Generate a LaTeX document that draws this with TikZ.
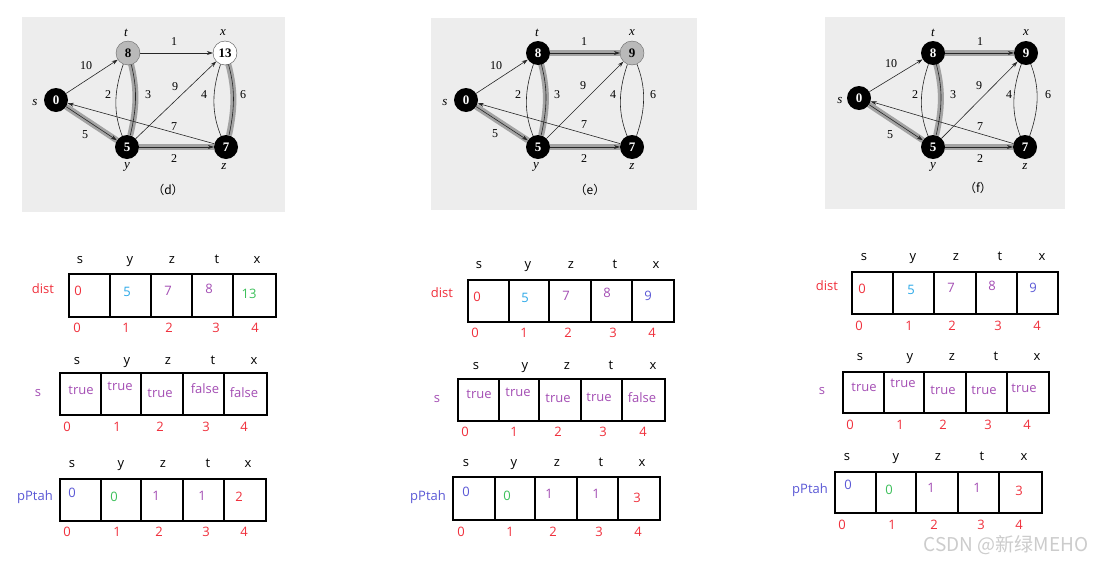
\documentclass[tikz,border=0pt]{standalone}
\usepackage{fontspec}
\setmainfont{Liberation Serif}
\newfontfamily\tabfont{Open Sans}
\newfontfamily\cjk{Noto Sans CJK SC}
\usetikzlibrary{arrows.meta}
\pgfdeclarelayer{bottom}
\pgfdeclarelayer{edges}
\pgfsetlayers{bottom,edges,main}
\definecolor{panelbg}{HTML}{EDEDED}
\definecolor{redc}{HTML}{F0303C}
\definecolor{bluec}{HTML}{2AA8E8}
\definecolor{purp}{HTML}{A44EB4}
\definecolor{blu2}{HTML}{5A58D6}
\definecolor{greenc}{HTML}{3CC05A}
\newcommand\tbbox[8]{%
  \draw[tabline] (#1,#7) rectangle (#6,#8);
  \draw[tabline] (#2,#7) -- (#2,#8); \draw[tabline] (#3,#7) -- (#3,#8);
  \draw[tabline] (#4,#7) -- (#4,#8); \draw[tabline] (#5,#7) -- (#5,#8);}
\newcommand\tbhdr[7]{%
  \node[hdr] (#1a) at (#3,#2) {s}; \node[hdr] (#1b) at (#4,#2) {y};
  \node[hdr] (#1c) at (#5,#2) {z}; \node[hdr] (#1d) at (#6,#2) {t};
  \node[hdr] (#1e) at (#7,#2) {x};}
\newcommand\tbidx[7]{%
  \node[idx] (#1a) at (#3,#2) {0}; \node[idx] (#1b) at (#4,#2) {1};
  \node[idx] (#1c) at (#5,#2) {2}; \node[idx] (#1d) at (#6,#2) {3};
  \node[idx] (#1e) at (#7,#2) {4};}
\begin{document}
\begin{tikzpicture}[x=1pt,y=-1pt,
  vtx/.style={circle, minimum size=24pt, inner sep=0pt, font=\bfseries\fontsize{13}{13}\selectfont},
  blk/.style={vtx, fill=black, text=white},
  gry/.style={vtx, fill=gray!55, draw=black!60, text=black},
  wht/.style={vtx, fill=white, draw=black!70, text=black},
  arr/.style={-{Stealth[length=6pt,width=4pt]}, line width=0.6pt, black!85},
  band/.style={line width=6pt, gray!72},
  elab/.style={font=\fontsize{12}{12}\selectfont, inner sep=0pt},
  vlab/.style={font=\itshape\fontsize{13}{13}\selectfont, inner sep=0pt},
  captxt/.style={font=\fontsize{12}{12}\selectfont, inner sep=0pt},
  tb/.style={font=\tabfont\fontsize{13}{13}\selectfont, inner sep=0pt, text height=9.5pt, text depth=3pt},
  hdr/.style={tb, text=black},
  idx/.style={tb, text=redc},
  tabline/.style={line width=1.8pt, black}]
\useasboundingbox (0,0) rectangle (1098,560);
\begin{pgfonlayer}{bottom}
\fill[white] (0,0) rectangle (1098,560);
% ---------- panels ----------
\fill[panelbg] (22,17) rectangle (285,212);
\fill[panelbg] (431,18) rectangle (697,210);
\fill[panelbg] (825,17) rectangle (1065,209);
\end{pgfonlayer}
% ---------- graph (d) ----------
\begin{scope}[shift={(128,53)}, name prefix=d-]
  \node[blk] (s) at (-72,47) {0};
  \node[gry] (t) at (0,0) {8};
  \node[wht] (x) at (97,0) {13};
  \node[blk] (y) at (-1,94) {5};
  \node[blk] (z) at (98,94) {7};
  \begin{pgfonlayer}{edges}
  \draw[arr] (s) -- (t);
  \draw[arr] (t) -- (x);
  \draw[arr] (t) to[bend right=22] (y);
  \draw[band] (y) to[bend right=15] (t); \draw[arr] (y) to[bend right=15] (t);
  \draw[band] (s) -- (y); \draw[arr] (s) -- (y);
  \draw[arr] (y) -- (x);
  \draw[arr] (x) to[bend right=22] (z);
  \draw[band] (z) to[bend right=15] (x); \draw[arr] (z) to[bend right=15] (x);
  \draw[arr] (z) -- (s);
  \draw[band] (y) -- (z); \draw[arr] (y) -- (z);
  \end{pgfonlayer}
  \node[elab] (l10) at (-42,13) {10};
  \node[elab] (l1) at (46,-11) {1};
  \node[elab] (l2a) at (-20,42) {2};
  \node[elab] (l3) at (20,42) {3};
  \node[elab] (l9) at (47,34) {9};
  \node[elab] (l4) at (76,42) {4};
  \node[elab] (l6) at (115,42) {6};
  \node[elab] (l7) at (46,74) {7};
  \node[elab] (l5) at (-43,82) {5};
  \node[elab] (l2b) at (46,106) {2};
  \node[vlab] (ns) at (-93,49) {s};
  \node[vlab] (nt) at (-2,-20) {t};
  \node[vlab] (nx) at (95,-20) {x};
  \node[vlab] (ny) at (-1,114) {y};
  \node[vlab] (nz) at (96,114) {z};
  \node[captxt] (cp) at (40,137) {\cjk{（}d\cjk{）}};
\end{scope}
% ---------- graph (e) ----------
\begin{scope}[shift={(538,53)}, name prefix=e-]
  \node[blk] (s) at (-72,47) {0};
  \node[blk] (t) at (0,0) {8};
  \node[gry] (x) at (94,0) {9};
  \node[blk] (y) at (0,94) {5};
  \node[blk] (z) at (94,94) {7};
  \begin{pgfonlayer}{edges}
  \draw[arr] (s) -- (t);
  \draw[band] (t) -- (x); \draw[arr] (t) -- (x);
  \draw[arr] (t) to[bend right=22] (y);
  \draw[band] (y) to[bend right=15] (t); \draw[arr] (y) to[bend right=15] (t);
  \draw[band] (s) -- (y); \draw[arr] (s) -- (y);
  \draw[arr] (y) -- (x);
  \draw[arr] (x) to[bend right=22] (z);
  \draw[arr] (z) to[bend right=22] (x);
  \draw[arr] (z) -- (s);
  \draw[band] (y) -- (z); \draw[arr] (y) -- (z);
  \end{pgfonlayer}
  \node[elab] (l10) at (-42,13) {10};
  \node[elab] (l1) at (46,-11) {1};
  \node[elab] (l2a) at (-20,42) {2};
  \node[elab] (l3) at (19,42) {3};
  \node[elab] (l9) at (45,33) {9};
  \node[elab] (l4) at (75,42) {4};
  \node[elab] (l6) at (115,42) {6};
  \node[elab] (l7) at (46,72) {7};
  \node[elab] (l5) at (-43,81) {5};
  \node[elab] (l2b) at (46,106) {2};
  \node[vlab] (ns) at (-93,49) {s};
  \node[vlab] (nt) at (-1,-20) {t};
  \node[vlab] (nx) at (94,-20) {x};
  \node[vlab] (ny) at (-2,114) {y};
  \node[vlab] (nz) at (94,114) {z};
  \node[captxt] (cp) at (52,137) {\cjk{（}e\cjk{）}};
\end{scope}
% ---------- graph (f) ----------
\begin{scope}[shift={(933,53)}, name prefix=f-]
  \node[blk] (s) at (-74,45) {0};
  \node[blk] (t) at (0,0) {8};
  \node[blk] (x) at (93,0) {9};
  \node[blk] (y) at (0,94) {5};
  \node[blk] (z) at (92,94) {7};
  \begin{pgfonlayer}{edges}
  \draw[arr] (s) -- (t);
  \draw[band] (t) -- (x); \draw[arr] (t) -- (x);
  \draw[arr] (t) to[bend right=22] (y);
  \draw[band] (y) to[bend right=15] (t); \draw[arr] (y) to[bend right=15] (t);
  \draw[band] (s) -- (y); \draw[arr] (s) -- (y);
  \draw[arr] (y) -- (x);
  \draw[arr] (x) to[bend right=22] (z);
  \draw[arr] (z) to[bend right=22] (x);
  \draw[arr] (z) -- (s);
  \draw[band] (y) -- (z); \draw[arr] (y) -- (z);
  \end{pgfonlayer}
  \node[elab] (l10) at (-42,11) {10};
  \node[elab] (l1) at (47,-11) {1};
  \node[elab] (l2a) at (-18,42) {2};
  \node[elab] (l3) at (20,42) {3};
  \node[elab] (l9) at (46,33) {9};
  \node[elab] (l4) at (76,42) {4};
  \node[elab] (l6) at (115,42) {6};
  \node[elab] (l7) at (47,74) {7};
  \node[elab] (l5) at (-43,82) {5};
  \node[elab] (l2b) at (47,106) {2};
  \node[vlab] (ns) at (-93,47) {s};
  \node[vlab] (nt) at (0,-20) {t};
  \node[vlab] (nx) at (93,-20) {x};
  \node[vlab] (ny) at (0,114) {y};
  \node[vlab] (nz) at (92,114) {z};
  \node[captxt] (cp) at (45,135) {\cjk{（}f\cjk{）}};
\end{scope}
% ---------- tables column d ----------
\node[tb, text=redc] (dDl) at (43,290) {dist};
\tbhdr{dDh}{260}{80}{130}{172}{217}{257}
\tbbox{69}{110}{151}{192}{233}{276}{274}{317}
\node[tb, text=redc] (dDv0) at (78,292) {0};
\node[tb, text=bluec] (dDv1) at (127,293) {5};
\node[tb, text=purp] (dDv2) at (168,292) {7};
\node[tb, text=purp] (dDv3) at (209,290) {8};
\node[tb, text=greenc] (dDv4) at (249,295) {13};
\tbidx{dDi}{329}{77}{126}{169}{216}{255}

\node[tb, text=purp] (dSl) at (38,393) {s};
\tbhdr{dSh}{361}{77}{127}{168}{213}{254}
\tbbox{60}{101}{141}{183}{224}{267}{373}{415}
\node[tb, text=purp] (dSv0) at (81,391) {true};
\node[tb, text=purp] (dSv1) at (120,387) {true};
\node[tb, text=purp] (dSv2) at (160,394) {true};
\node[tb, text=purp] (dSv3) at (205,390) {false};
\node[tb, text=purp] (dSv4) at (244,394) {false};
\tbidx{dSi}{428}{67}{117}{160}{206}{244}

\node[tb, text=blu2] (dPl) at (35,497) {pPtah};
\tbhdr{dPh}{464}{72}{121}{163}{208}{248}
\tbbox{60}{101}{141}{183}{224}{266}{479}{521}
\node[tb, text=blu2] (dPv0) at (72,494) {0};
\node[tb, text=greenc] (dPv1) at (114,498) {0};
\node[tb, text=purp] (dPv2) at (156,497) {1};
\node[tb, text=purp] (dPv3) at (202,497) {1};
\node[tb, text=redc] (dPv4) at (239,498) {2};
\tbidx{dPi}{533}{67}{117}{159}{206}{244}
% ---------- tables column e ----------
\node[tb, text=redc] (eDl) at (442,294) {dist};
\tbhdr{eDh}{265}{479}{528}{571}{615}{656}
\tbbox{468}{509}{549}{591}{632}{674}{280}{322}
\node[tb, text=redc] (eDv0) at (477,298) {0};
\node[tb, text=bluec] (eDv1) at (525,299) {5};
\node[tb, text=purp] (eDv2) at (566,297) {7};
\node[tb, text=purp] (eDv3) at (607,294) {8};
\node[tb, text=blu2] (eDv4) at (648,297) {9};
\tbidx{eDi}{334}{475}{524}{568}{613}{652}

\node[tb, text=purp] (eSl) at (437,399) {s};
\tbhdr{eSh}{366}{476}{525}{567}{611}{653}
\tbbox{458}{499}{539}{581}{622}{665}{379}{421}
\node[tb, text=purp] (eSv0) at (479,395) {true};
\node[tb, text=purp] (eSv1) at (518,393) {true};
\node[tb, text=purp] (eSv2) at (558,399) {true};
\node[tb, text=purp] (eSv3) at (599,398) {true};
\node[tb, text=purp] (eSv4) at (642,399) {false};
\tbidx{eSi}{433}{465}{514}{558}{603}{643}

\node[tb, text=blu2] (ePl) at (428,497) {pPtah};
\tbhdr{ePh}{463}{466}{514}{557}{601}{642}
\tbbox{453}{495}{535}{577}{618}{660}{477}{520}
\node[tb, text=blu2] (ePv0) at (466,493) {0};
\node[tb, text=greenc] (ePv1) at (507,497) {0};
\node[tb, text=purp] (ePv2) at (549,495) {1};
\node[tb, text=purp] (ePv3) at (596,495) {1};
\node[tb, text=redc] (ePv4) at (637,499) {3};
\tbidx{ePi}{533}{461}{510}{553}{599}{638}
% ---------- tables column f ----------
\node[tb, text=redc] (fDl) at (827,287) {dist};
\tbhdr{fDh}{257}{864}{913}{956}{1000}{1042}
\tbbox{852}{893}{934}{976}{1017}{1058}{272}{314}
\node[tb, text=redc] (fDv0) at (862,290) {0};
\node[tb, text=bluec] (fDv1) at (911,291) {5};
\node[tb, text=purp] (fDv2) at (951,289) {7};
\node[tb, text=purp] (fDv3) at (992,287) {8};
\node[tb, text=blu2] (fDv4) at (1033,289) {9};
\tbidx{fDi}{327}{859}{909}{952}{998}{1037}

\node[tb, text=purp] (fSl) at (822,391) {s};
\tbhdr{fSh}{357}{860}{910}{952}{996}{1037}
\tbbox{843}{884}{924}{966}{1007}{1049}{372}{413}
\node[tb, text=purp] (fSv0) at (864,388) {true};
\node[tb, text=purp] (fSv1) at (903,384) {true};
\node[tb, text=purp] (fSv2) at (943,391) {true};
\node[tb, text=purp] (fSv3) at (984,391) {true};
\node[tb, text=purp] (fSv4) at (1024,389) {true};
\tbidx{fSi}{426}{850}{900}{943}{988}{1027}

\node[tb, text=blu2] (fPl) at (810,490) {pPtah};
\tbhdr{fPh}{457}{847}{896}{938}{982}{1024}
\tbbox{835}{876}{916}{958}{999}{1042}{472}{513}
\node[tb, text=blu2] (fPv0) at (848,486) {0};
\node[tb, text=greenc] (fPv1) at (889,491) {0};
\node[tb, text=purp] (fPv2) at (931,489) {1};
\node[tb, text=purp] (fPv3) at (977,489) {1};
\node[tb, text=redc] (fPv4) at (1019,492) {3};
\tbidx{fPi}{526}{842}{892}{934}{981}{1019}
% ---------- watermark ----------
\node[font=\cjk\fontsize{19}{19}\selectfont, text=gray!40, inner sep=0pt] (wm) at (1006,545) {CSDN @新绿MEHO};
\end{tikzpicture}
\end{document}
